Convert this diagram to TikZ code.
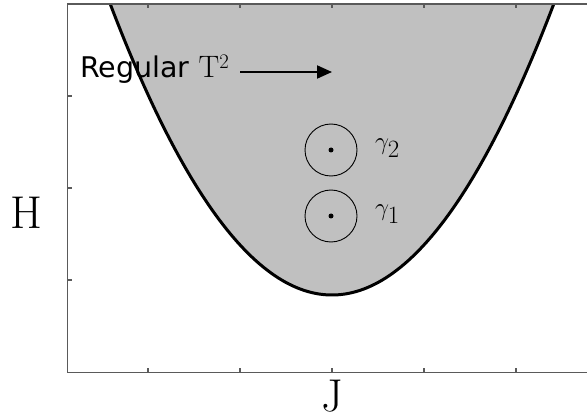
\documentclass[tikz,border=0pt]{standalone}
\usepackage{fontspec}
\newfontfamily\dejavu{DejaVu Sans}
\usetikzlibrary{arrows.meta}
\definecolor{regiongray}{RGB}{192,192,192}
\definecolor{axisgray}{RGB}{90,90,90}
\tikzset{
  axisline/.style={draw=axisgray, line width=1.5pt},
  tickline/.style={draw=axisgray, line width=1.2pt},
  curveline/.style={draw=black, line width=3pt},
  orbit/.style={circle, draw=black, line width=0.9pt, minimum size=52pt, inner sep=0pt},
  centerdot/.style={circle, fill=black, minimum size=5pt, inner sep=0pt},
  bigletter/.style={inner sep=0pt, font=\fontsize{46}{50}\selectfont},
  gammalabel/.style={inner sep=0pt, anchor=base west, font=\fontsize{38}{42}\selectfont},
  arrowline/.style={draw=black, line width=2pt, -{Triangle[length=15pt,width=13pt]}}
}
\begin{document}
\begin{tikzpicture}[x=1pt,y=-1pt]
\useasboundingbox (0,0) rectangle (587,417);
% shaded region above the parabola
\fill[regiongray] plot[domain=-221.8:221.8, samples=120] ({332+\x},{295-(\x/13)*(\x/13)}) -- cycle;
\draw[curveline] plot[domain=-221.8:221.8, samples=120] ({332+\x},{295-(\x/13)*(\x/13)});
% frame
\draw[axisline] (600,4) -- (67.5,4) -- (67.5,372.5) -- (600,372.5);
\foreach \tx in {148,240,332,424,516} {
  \draw[tickline] (\tx,372.5) -- (\tx,368);
  \draw[tickline] (\tx,4) -- (\tx,8.5);
}
\foreach \ty in {96,188,280} {
  \draw[tickline] (67.5,\ty) -- (72,\ty);
}
% axis labels
\node[bigletter, anchor=base] (hlab) at (26.5,229) {H};
\node[bigletter, anchor=south] (jlab) at (332,412) {J};
% regular torus label and arrow
\node[inner sep=0pt, anchor=base west, font=\fontsize{28.5}{33}\selectfont] (reg) at (80,78) {\dejavu Regular {\fontsize{31}{33}\selectfont$\mathrm{T}^2$}};
\coordinate (astart) at (240,72);
\coordinate (aend) at (332,72);
\draw[arrowline] (astart) -- (aend);
% orbits
\node[orbit] (c2) at (331,150) {};
\node[centerdot] (d2) at (331,150) {};
\node[orbit] (c1) at (331,216) {};
\node[centerdot] (d1) at (331,216) {};
\node[gammalabel] (g2) at (375,150) {$\gamma_2$};
\node[gammalabel] (g1) at (375,216) {$\gamma_1$};
\end{tikzpicture}
\end{document}
